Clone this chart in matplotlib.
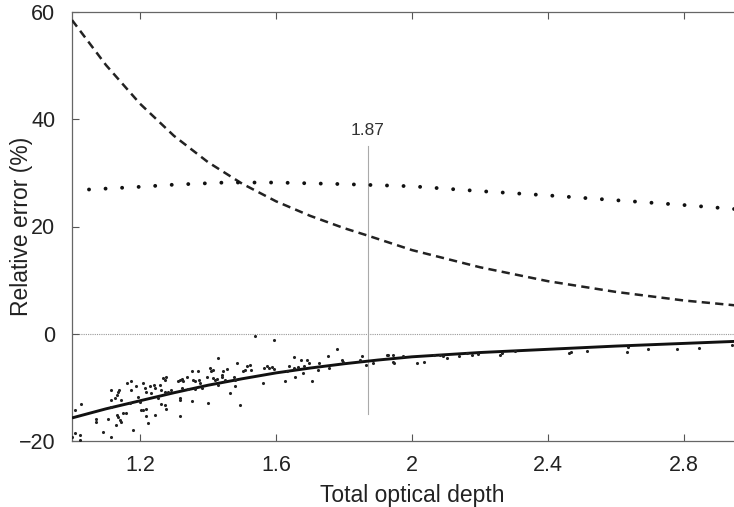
import matplotlib
matplotlib.use("Agg")
import matplotlib.pyplot as plt

plt.rcParams['font.family'] = ['Liberation Sans', 'DejaVu Sans']

# ---- data ----
dash_x = [1.0, 1.1, 1.2, 1.3, 1.4, 1.5, 1.6, 1.7, 1.8, 1.87, 2.0, 2.2, 2.4, 2.6, 2.8, 3.0]
dash_y = [58.5, 50.1, 42.9, 36.9, 32.0, 28.0, 24.7, 22.0, 19.7, 18.3, 15.6, 12.4, 9.8, 7.8, 6.2, 5.0]

dot_x = [1.05, 1.2, 1.3, 1.45, 1.6, 1.8, 2.0, 2.2, 2.4, 2.6, 2.8, 3.0]
dot_y = [26.9, 27.4, 27.8, 28.2, 28.2, 27.9, 27.5, 26.6, 25.8, 24.9, 24.0, 23.0]

solid_x = [1.0, 1.1, 1.2, 1.3, 1.4, 1.5, 1.6, 1.7, 1.8, 1.9, 2.0, 2.2, 2.4, 2.6, 2.8, 3.0]
solid_y = [-15.7, -14.0, -12.5, -11.0, -9.6, -8.4, -7.3, -6.4, -5.6, -4.9, -4.3, -3.5, -2.9, -2.3, -1.8, -1.3]

scat_x = [1.010, 1.027, 1.000, 1.024, 1.024, 1.009, 1.071, 1.071, 1.091, 1.106, 1.115, 1.114, 1.116, 1.115,
          1.127, 1.133, 1.135, 1.137, 1.145, 1.133, 1.135, 1.140, 1.145, 1.130, 1.150, 1.160, 1.163, 1.174,
          1.179, 1.174, 1.189, 1.170, 1.194, 1.199, 1.202, 1.209, 1.219, 1.219, 1.224, 1.209, 1.214, 1.219,
          1.229, 1.231, 1.241, 1.243, 1.245, 1.253, 1.258, 1.263, 1.268, 1.273, 1.277, 1.273, 1.277, 1.263,
          1.273, 1.277, 1.282, 1.292,
          1.318, 1.318, 1.318, 1.352, 1.401, 1.313, 1.318, 1.323, 1.327, 1.337, 1.352, 1.370, 1.357, 1.362,
          1.374, 1.376, 1.323, 1.342, 1.362, 1.381, 1.396, 1.406, 1.409, 1.416, 1.416, 1.421, 1.426, 1.429,
          1.430, 1.440, 1.442, 1.445, 1.450, 1.455, 1.465, 1.479, 1.477, 1.479, 1.484, 1.494, 1.504, 1.509,
          1.514, 1.524, 1.526, 1.538, 1.563, 1.566, 1.573, 1.579, 1.587, 1.595, 1.595,
          1.626, 1.631, 1.639, 1.653, 1.653, 1.656, 1.666, 1.673, 1.679, 1.682, 1.690, 1.698, 1.705, 1.727,
          1.724, 1.754, 1.757, 1.780, 1.793, 1.798, 1.847, 1.852, 1.865, 1.886, 1.927,
          1.929, 1.945, 1.945, 1.948, 1.974, 2.014, 2.036, 2.066, 2.082, 2.092, 2.102, 2.138, 2.161, 2.177,
          2.193, 2.259, 2.264, 2.303,
          2.462, 2.468, 2.514, 2.631, 2.636, 2.693, 2.778, 2.844, 2.940]
scat_y = [-14.2, -13.1, -19.2, -18.8, -19.8, -18.5, -15.9, -16.4, -18.4, -15.9, -19.2, -13.6, -12.3, -10.4,
          -12.0, -11.4, -10.8, -10.4, -12.3, -15.1, -15.5, -16.0, -16.4, -17.0, -14.8, -14.8, -9.1, -8.8,
          -17.9, -10.4, -9.8, -12.9, -11.8, -12.8, -14.2, -14.2, -14.0, -15.4, -16.7, -9.2, -10.1, -10.8,
          -9.7, -11.1, -9.5, -10.1, -15.1, -11.9, -9.5, -10.4, -8.3, -8.6, -8.1, -10.8, -11.1, -13.1,
          -13.2, -14.0, -10.8, -10.4,
          -15.4, -12.3, -12.0, -12.6, -12.9, -8.9, -8.6, -8.5, -8.9, -8.1, -7.0, -7.0, -8.6, -8.9,
          -8.6, -9.2, -10.1, -10.3, -10.3, -10.1, -8.0, -6.4, -7.0, -6.7, -8.3, -8.6, -8.5, -4.5,
          -9.5, -7.6, -8.0, -7.0, -8.6, -6.6, -11.1, -9.8, -8.0, -8.6, -5.5, -13.2, -7.0, -6.7,
          -6.1, -5.8, -6.7, -0.5, -9.2, -6.4, -6.1, -6.4, -6.2, -6.6, -1.1,
          -8.9, -7.0, -6.0, -4.4, -6.4, -8.0, -6.2, -4.9, -7.3, -6.0, -4.9, -5.5, -8.9, -5.5,
          -6.7, -4.2, -6.4, -2.8, -4.9, -5.2, -4.9, -4.1, -5.8, -5.5, -3.9,
          -3.9, -3.9, -5.2, -5.5, -4.2, -5.5, -5.2, -3.9, -3.9, -4.1, -4.5, -4.2, -3.6, -3.9,
          -3.7, -3.9, -3.6, -3.3,
          -3.6, -3.4, -3.2, -3.4, -2.4, -2.9, -2.9, -2.7, -2.1]

marker_x = 1.87
marker_label = "1.87"
x_ticks = [1.2, 1.6, 2.0, 2.4, 2.8]
x_tick_labels = ["1.2", "1.6", "2", "2.4", "2.8"]
y_ticks = [-20, 0, 20, 40, 60]

# ---- figure ----
fig = plt.figure(figsize=(7.34, 5.07), dpi=100)
W, H = 734, 507
ax = fig.add_axes([72 / W, (H - 441) / H, 680 / W, (441 - 12) / H])

ax.axhline(0, color='#999999', lw=0.8, ls=(0, (1, 1)), zorder=1)
ax.plot([marker_x, marker_x], [-15, 35], color='#aaaaaa', lw=0.8, zorder=1)
ax.text(marker_x, 36.5, marker_label, ha='center', va='bottom', fontsize=12.5, color='#333333')

ax.plot(dash_x, dash_y, color='#222222', lw=1.8, ls=(0, (3.3, 2.1)), zorder=3)
ax.plot(dot_x, dot_y, color='#111111', lw=2.8, ls=(0, (0.01, 4.25)),
        dash_capstyle='round', zorder=3)
ax.plot(solid_x, solid_y, color='#111111', lw=2.1, zorder=3, solid_capstyle='butt')
ax.scatter(scat_x, scat_y, s=5, color='#222222', linewidths=0, zorder=4)

ax.set_xlim(1.0, 3.0)
ax.set_ylim(-20, 60)
ax.set_xticks(x_ticks)
ax.set_xticklabels(x_tick_labels)
ax.set_yticks(y_ticks)
ax.tick_params(direction='in', length=5, width=0.8, color='#555555',
               top=True, right=False, labelsize=15.5, labelcolor='#222222')
ax.tick_params(axis='x', pad=10)
ax.tick_params(axis='y', pad=12)
for s in ax.spines.values():
    s.set_color('#666666')
    s.set_linewidth(0.9)

ax.set_xlabel("Total optical depth", fontsize=16.5, color='#222222')
ax.set_ylabel("Relative error (%)", fontsize=16.5, color='#222222')
ax.xaxis.set_label_coords(0.5, -0.100)
ax.yaxis.set_label_coords(-0.058, 0.5)

fig.savefig("out.png", dpi=100)
